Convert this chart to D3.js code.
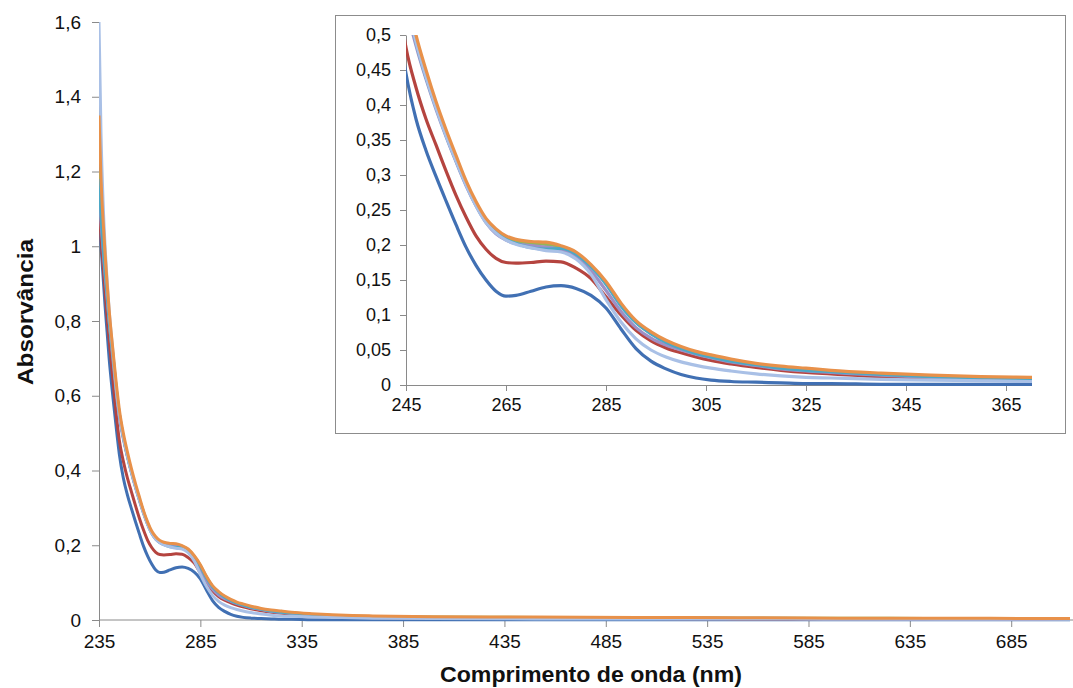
<!DOCTYPE html>
<html>
<head>
<meta charset="utf-8">
<script src="https://cdn.jsdelivr.net/npm/d3@7"></script>
<style>
  body { margin: 0; background: #fff; }
  svg { display: block; font-family: "Liberation Sans", Arial, sans-serif; }
  .axis path, .axis line { stroke: #8a8a8a; }
</style>
</head>
<body>
<div class="svg-container"></div>
<script>
// comprimento de onda (nm)
const wl = [235, 236, 237, 238, 239, 240, 242, 244, 245, 247, 249, 251, 253, 255, 257, 259, 261, 263, 265, 267,
  270, 273, 276, 279, 282, 285, 288, 291, 294, 297, 300, 303, 306, 310, 315, 320, 325, 330, 340, 350,
  360, 370, 400, 450, 500, 550, 600, 650, 700, 714];

const serieAzul = [1.10, 1.00, 0.92, 0.84, 0.77, 0.70, 0.59, 0.49, 0.445, 0.38, 0.335, 0.298, 0.263, 0.229, 0.197, 0.171, 0.150, 0.134, 0.127, 0.128,
  0.134, 0.140, 0.142, 0.138, 0.128, 0.110, 0.080, 0.052, 0.034, 0.023, 0.015, 0.010, 0.007, 0.005, 0.004, 0.003, 0.002, 0.002, 0.001, 0.001,
  0.001, 0.001, 0.001, 0.001, 0.001, 0.001, 0.001, 0.001, 0.001, 0.001];

const serieVermelha = [1.12, 1.02, 0.95, 0.88, 0.81, 0.75, 0.635, 0.525, 0.482, 0.425, 0.38, 0.343, 0.306, 0.271, 0.24, 0.213, 0.194, 0.181, 0.175, 0.174,
  0.175, 0.177, 0.176, 0.167, 0.152, 0.126, 0.100, 0.078, 0.063, 0.053, 0.046, 0.040, 0.035, 0.030, 0.025, 0.021, 0.018, 0.016, 0.012, 0.010,
  0.008, 0.007, 0.005, 0.004, 0.004, 0.003, 0.003, 0.003, 0.002, 0.002];

const serieVerde = [1.20, 1.10, 1.02, 0.95, 0.88, 0.81, 0.70, 0.595, 0.553, 0.49, 0.44, 0.397, 0.358, 0.322, 0.288, 0.258, 0.234, 0.219, 0.210, 0.205,
  0.202, 0.201, 0.197, 0.188, 0.170, 0.146, 0.115, 0.090, 0.074, 0.062, 0.053, 0.046, 0.041, 0.035, 0.029, 0.025, 0.022, 0.019, 0.015, 0.012,
  0.010, 0.009, 0.008, 0.007, 0.006, 0.005, 0.005, 0.004, 0.004, 0.004];

const serieRoxa = [1.15, 1.06, 0.99, 0.92, 0.86, 0.80, 0.69, 0.585, 0.543, 0.485, 0.437, 0.394, 0.355, 0.319, 0.285, 0.256, 0.232, 0.216, 0.207, 0.202,
  0.199, 0.197, 0.193, 0.183, 0.163, 0.135, 0.105, 0.082, 0.067, 0.057, 0.050, 0.044, 0.039, 0.033, 0.028, 0.023, 0.020, 0.018, 0.014, 0.011,
  0.009, 0.008, 0.006, 0.005, 0.005, 0.004, 0.004, 0.003, 0.003, 0.003];

const serieCiano = [1.18, 1.08, 1.00, 0.93, 0.87, 0.80, 0.70, 0.595, 0.553, 0.49, 0.44, 0.397, 0.357, 0.321, 0.287, 0.257, 0.233, 0.218, 0.208, 0.202,
  0.196, 0.194, 0.195, 0.187, 0.169, 0.144, 0.113, 0.089, 0.073, 0.061, 0.052, 0.045, 0.040, 0.034, 0.029, 0.024, 0.021, 0.019, 0.015, 0.012,
  0.010, 0.009, 0.007, 0.006, 0.006, 0.005, 0.004, 0.004, 0.004, 0.003];

const serieClara = [1.60, 1.30, 1.12, 1.00, 0.91, 0.83, 0.71, 0.595, 0.553, 0.49, 0.44, 0.396, 0.356, 0.32, 0.286, 0.256, 0.232, 0.217, 0.207, 0.201,
  0.196, 0.192, 0.190, 0.180, 0.158, 0.122, 0.090, 0.066, 0.050, 0.040, 0.033, 0.028, 0.024, 0.020, 0.016, 0.013, 0.011, 0.010, 0.008, 0.007,
  0.006, 0.005, 0.004, 0.003, 0.003, 0.003, 0.002, 0.002, 0.002, 0.002];

const serieLaranja = [1.35, 1.18, 1.07, 0.98, 0.90, 0.83, 0.715, 0.61, 0.565, 0.50, 0.45, 0.405, 0.365, 0.328, 0.292, 0.262, 0.238, 0.223, 0.213, 0.208,
  0.205, 0.204, 0.199, 0.190, 0.172, 0.148, 0.117, 0.092, 0.076, 0.064, 0.055, 0.048, 0.043, 0.037, 0.031, 0.027, 0.024, 0.021, 0.017, 0.014,
  0.012, 0.011, 0.009, 0.008, 0.007, 0.006, 0.005, 0.005, 0.004, 0.004];

const series = [serieAzul, serieVermelha, serieVerde, serieRoxa, serieCiano, serieClara, serieLaranja];
const cores = ['#4170b3', '#b5443f', '#93b65a', '#9d90c6', '#4ba8c6', '#a9c0e6', '#e8914a'];

const ticksX = [235, 285, 335, 385, 435, 485, 535, 585, 635, 685];
const ticksY = [0, 0.2, 0.4, 0.6, 0.8, 1, 1.2, 1.4, 1.6];
const ticksXInset = [245, 265, 285, 305, 325, 345, 365];
const ticksYInset = [0, 0.05, 0.1, 0.15, 0.2, 0.25, 0.3, 0.35, 0.4, 0.45, 0.5];

const widthSVG = 1073;
const heightSVG = 688;

const fmt = v => String(v).replace('.', ',');

const svg = d3.select('.svg-container')
  .append('svg')
  .attr('width', widthSVG)
  .attr('height', heightSVG);

const defs = svg.append('defs');

// grafico principal
const x = d3.scaleLinear().domain([235, 714]).range([99, 1070]);
const y = d3.scaleLinear().domain([0, 1.6]).range([620, 22]);

defs.append('clipPath').attr('id', 'clipMain')
  .append('rect').attr('x', 99).attr('y', 20).attr('width', 974).attr('height', 602);

const xAxis = svg.append('g')
  .attr('class', 'axis')
  .attr('transform', 'translate(0,620)')
  .call(d3.axisBottom(x).tickValues(ticksX).tickSize(7).tickSizeOuter(0).tickFormat(d => d));
xAxis.selectAll('text').attr('font-size', 19).attr('fill', '#111').attr('dy', '0.95em');
xAxis.select('.domain').attr('d', 'M99,0H1073');

const yAxis = svg.append('g')
  .attr('class', 'axis')
  .attr('transform', 'translate(99,0)')
  .call(d3.axisLeft(y).tickValues(ticksY).tickSize(7).tickSizeOuter(0).tickPadding(11).tickFormat(fmt));
yAxis.selectAll('text').attr('font-size', 19).attr('fill', '#111');

const line = d3.line()
  .x((d, i) => x(wl[i]))
  .y(d => y(d))
  .curve(d3.curveMonotoneX);

svg.append('g').attr('clip-path', 'url(#clipMain)')
  .selectAll('path')
  .data(series)
  .enter().append('path')
  .attr('d', line)
  .attr('fill', 'none')
  .attr('stroke', (d, i) => cores[i])
  .attr('stroke-width', 3)
  .attr('stroke-linejoin', 'round');

svg.append('text')
  .attr('transform', 'translate(33,312) rotate(-90)')
  .attr('text-anchor', 'middle')
  .attr('font-size', 22)
  .attr('font-weight', 'bold')
  .attr('fill', '#111')
  .attr('textLength', 146)
  .attr('lengthAdjust', 'spacingAndGlyphs')
  .text('Absorvância');

svg.append('text')
  .attr('x', 591)
  .attr('y', 682)
  .attr('text-anchor', 'middle')
  .attr('font-size', 22)
  .attr('font-weight', 'bold')
  .attr('fill', '#111')
  .attr('textLength', 302)
  .attr('lengthAdjust', 'spacingAndGlyphs')
  .text('Comprimento de onda (nm)');

// grafico interno (zoom)
const inset = svg.append('g');

inset.append('rect')
  .attr('x', 335.5).attr('y', 15.5)
  .attr('width', 730).attr('height', 418)
  .attr('fill', '#fff')
  .attr('stroke', '#8c8c8c');

const xi = d3.scaleLinear().domain([245, 370]).range([406, 1031]);
const yi = d3.scaleLinear().domain([0, 0.5]).range([385, 35]);

defs.append('clipPath').attr('id', 'clipInset')
  .append('rect').attr('x', 406).attr('y', 35).attr('width', 626).attr('height', 351);

const xiAxis = inset.append('g')
  .attr('class', 'axis')
  .attr('transform', 'translate(0,385)')
  .call(d3.axisBottom(xi).tickValues(ticksXInset).tickSize(6).tickSizeOuter(0).tickFormat(d => d));
xiAxis.selectAll('text').attr('font-size', 18).attr('fill', '#111').attr('dy', '0.95em');

const yiAxis = inset.append('g')
  .attr('class', 'axis')
  .attr('transform', 'translate(406,0)')
  .call(d3.axisLeft(yi).tickValues(ticksYInset).tickSize(6).tickSizeOuter(0).tickPadding(9).tickFormat(fmt));
yiAxis.selectAll('text').attr('font-size', 18).attr('fill', '#111');

const lineInset = d3.line()
  .x((d, i) => xi(wl[i]))
  .y(d => yi(d))
  .curve(d3.curveMonotoneX);

inset.append('g').attr('clip-path', 'url(#clipInset)')
  .selectAll('path')
  .data(series)
  .enter().append('path')
  .attr('d', lineInset)
  .attr('fill', 'none')
  .attr('stroke', (d, i) => cores[i])
  .attr('stroke-width', 3.2)
  .attr('stroke-linejoin', 'round');
</script>
</body>
</html>
